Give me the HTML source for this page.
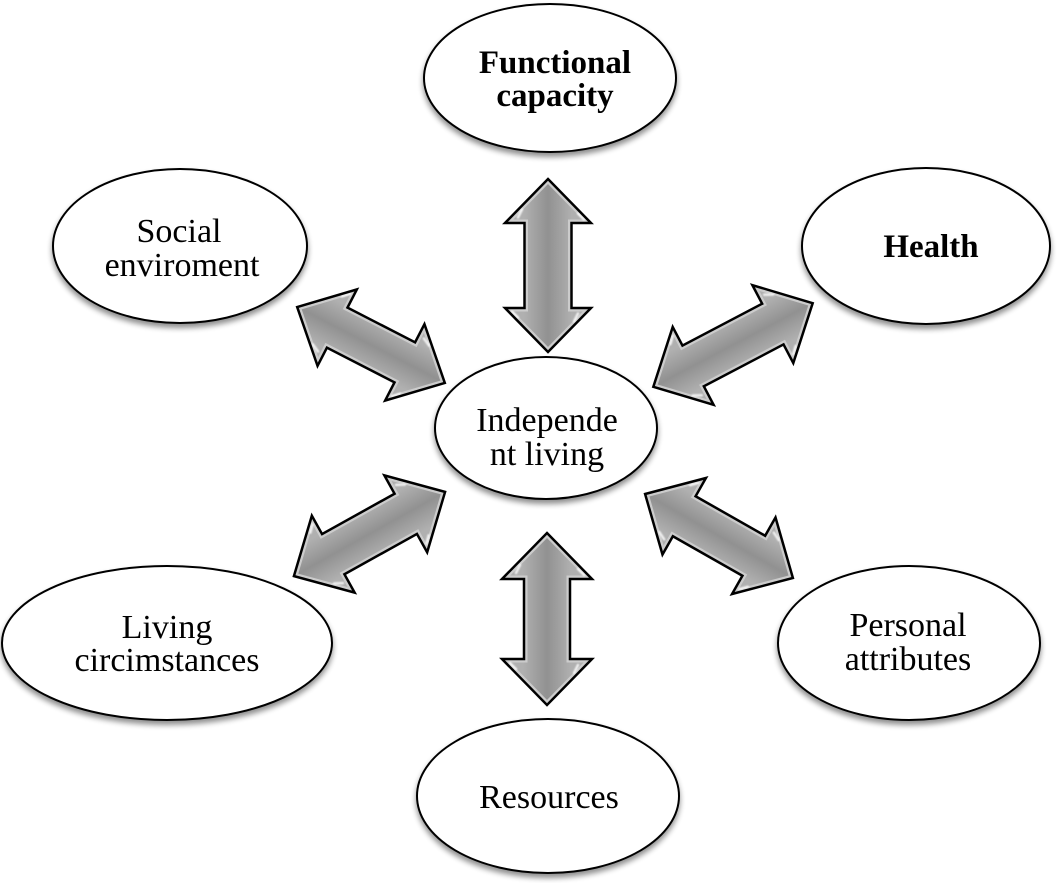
<!DOCTYPE html>
<html>
<head>
<meta charset="utf-8">
<style>
  html,body{margin:0;padding:0;background:#fff;}
  svg{display:block;}
  text{font-family:"Liberation Serif","Times New Roman",serif;font-size:34px;fill:#000;}
  .b{font-weight:bold;font-size:33px;}
</style>
</head>
<body>
<svg width="1064" height="883" viewBox="0 0 1064 883" xmlns="http://www.w3.org/2000/svg">
  <defs>
    <filter id="sh" x="-20%" y="-20%" width="140%" height="150%">
      <feGaussianBlur in="SourceAlpha" stdDeviation="3"/>
      <feOffset dx="0" dy="4" result="o"/>
      <feComponentTransfer><feFuncA type="linear" slope="0.45"/></feComponentTransfer>
      <feMerge><feMergeNode/><feMergeNode in="SourceGraphic"/></feMerge>
    </filter>
    <filter id="bl" x="-50%" y="-50%" width="200%" height="200%">
      <feGaussianBlur stdDeviation="0.8"/>
    </filter>
    <linearGradient id="g" gradientUnits="userSpaceOnUse" x1="0" y1="-24" x2="0" y2="24">
      <stop offset="0" stop-color="#b0b0b0"/>
      <stop offset="0.5" stop-color="#919191"/>
      <stop offset="1" stop-color="#b0b0b0"/>
    </linearGradient>

    <path id="aT" d="M-86.5,0 L-42.5,-43 L-42.5,-23.5 L42.5,-23.5 L42.5,-43 L86.5,0 L42.5,43 L42.5,23.5 L-42.5,23.5 L-42.5,43Z"/>
    <path id="aB" d="M-86,0 L-40,-45 L-40,-23 L40,-23 L40,-45 L86,0 L40,45 L40,23 L-40,23 L-40,45Z"/>
    <path id="aUL" d="M-83,0 L-38,-43 L-38,-22.5 L38,-22.5 L38,-43 L83,0 L38,43 L38,22.5 L-38,22.5 L-38,43Z"/>
    <path id="aUR" d="M-90,0 L-45,-44 L-45,-23 L45,-23 L45,-44 L90,0 L45,44 L45,23 L-45,23 L-45,44Z"/>
    <path id="aLL" d="M-86.5,0 L-41.5,-44 L-41.5,-23 L41.5,-23 L41.5,-44 L86.5,0 L41.5,44 L41.5,23 L-41.5,23 L-41.5,44Z"/>
    <path id="aLR" d="M-85,0 L-40,-44 L-40,-23 L40,-23 L40,-44 L85,0 L40,44 L40,23 L-40,23 L-40,44Z"/>

    <clipPath id="cT"><use href="#aT"/></clipPath>
    <clipPath id="cB"><use href="#aB"/></clipPath>
    <clipPath id="cUL"><use href="#aUL"/></clipPath>
    <clipPath id="cUR"><use href="#aUR"/></clipPath>
    <clipPath id="cLL"><use href="#aLL"/></clipPath>
    <clipPath id="cLR"><use href="#aLR"/></clipPath>
  </defs>

  <!-- Arrows -->
  <g transform="translate(548,265.5) rotate(90)">
    <use href="#aT" fill="url(#g)"/>
    <use href="#aT" fill="none" stroke="#cccccc" stroke-width="7" clip-path="url(#cT)"/>
    <g stroke="#fff" stroke-width="2.5" stroke-linecap="round" opacity="0.8" filter="url(#bl)">
      <line x1="-52" y1="-30" x2="-46" y2="-36"/><line x1="-56" y1="26" x2="-48" y2="30"/>
      <line x1="52" y1="30" x2="46" y2="36"/><line x1="56" y1="-26" x2="48" y2="-30"/>
    </g>
    <use href="#aT" fill="none" stroke="#000" stroke-width="2.5" stroke-linejoin="miter"/>
  </g>
  <g transform="translate(547,619) rotate(90)">
    <use href="#aB" fill="url(#g)"/>
    <use href="#aB" fill="none" stroke="#cccccc" stroke-width="7" clip-path="url(#cB)"/>
    <g stroke="#fff" stroke-width="2.5" stroke-linecap="round" opacity="0.8" filter="url(#bl)">
      <line x1="-50" y1="-31" x2="-44" y2="-37"/><line x1="-54" y1="27" x2="-46" y2="31"/>
      <line x1="50" y1="31" x2="44" y2="37"/><line x1="54" y1="-27" x2="46" y2="-31"/>
    </g>
    <use href="#aB" fill="none" stroke="#000" stroke-width="2.5"/>
  </g>
  <g transform="translate(371,345) rotate(27.2)">
    <use href="#aUL" fill="url(#g)"/>
    <use href="#aUL" fill="none" stroke="#cccccc" stroke-width="7" clip-path="url(#cUL)"/>
    <g stroke="#fff" stroke-width="2.5" stroke-linecap="round" opacity="0.8" filter="url(#bl)">
      <line x1="-48" y1="-30" x2="-42" y2="-36"/><line x1="-52" y1="26" x2="-44" y2="30"/>
      <line x1="48" y1="30" x2="42" y2="36"/><line x1="52" y1="-26" x2="44" y2="-30"/>
    </g>
    <use href="#aUL" fill="none" stroke="#000" stroke-width="2.5"/>
  </g>
  <g transform="translate(733,345) rotate(-27.7)">
    <use href="#aUR" fill="url(#g)"/>
    <use href="#aUR" fill="none" stroke="#cccccc" stroke-width="7" clip-path="url(#cUR)"/>
    <g stroke="#fff" stroke-width="2.5" stroke-linecap="round" opacity="0.8" filter="url(#bl)">
      <line x1="-55" y1="-30" x2="-49" y2="-36"/><line x1="-59" y1="26" x2="-51" y2="30"/>
      <line x1="55" y1="30" x2="49" y2="36"/><line x1="59" y1="-26" x2="51" y2="-30"/>
    </g>
    <use href="#aUR" fill="none" stroke="#000" stroke-width="2.5"/>
  </g>
  <g transform="translate(369.5,534) rotate(-29.1)">
    <use href="#aLL" fill="url(#g)"/>
    <use href="#aLL" fill="none" stroke="#cccccc" stroke-width="7" clip-path="url(#cLL)"/>
    <g stroke="#fff" stroke-width="2.5" stroke-linecap="round" opacity="0.8" filter="url(#bl)">
      <line x1="-51" y1="-30" x2="-45" y2="-36"/><line x1="-55" y1="26" x2="-47" y2="30"/>
      <line x1="51" y1="30" x2="45" y2="36"/><line x1="55" y1="-26" x2="47" y2="-30"/>
    </g>
    <use href="#aLL" fill="none" stroke="#000" stroke-width="2.5"/>
  </g>
  <g transform="translate(719,536) rotate(29.6)">
    <use href="#aLR" fill="url(#g)"/>
    <use href="#aLR" fill="none" stroke="#cccccc" stroke-width="7" clip-path="url(#cLR)"/>
    <g stroke="#fff" stroke-width="2.5" stroke-linecap="round" opacity="0.8" filter="url(#bl)">
      <line x1="-50" y1="-30" x2="-44" y2="-36"/><line x1="-54" y1="26" x2="-46" y2="30"/>
      <line x1="50" y1="30" x2="44" y2="36"/><line x1="54" y1="-26" x2="46" y2="-30"/>
    </g>
    <use href="#aLR" fill="none" stroke="#000" stroke-width="2.5"/>
  </g>

  <!-- Ellipses -->
  <g fill="#fff" stroke="#000" stroke-width="2" filter="url(#sh)">
    <ellipse cx="550" cy="78" rx="126" ry="74"/>
    <ellipse cx="180" cy="246" rx="127" ry="77"/>
    <ellipse cx="926" cy="246" rx="124" ry="78"/>
    <ellipse cx="546" cy="428" rx="111" ry="71"/>
    <ellipse cx="167" cy="643" rx="165" ry="77"/>
    <ellipse cx="909" cy="643" rx="131" ry="77"/>
    <ellipse cx="548" cy="796" rx="131" ry="77"/>
  </g>

  <!-- Labels -->
  <g text-anchor="middle">
    <text class="b" x="555" y="73">Functional</text>
    <text class="b" x="555" y="106">capacity</text>

    <text x="179" y="242">Social</text>
    <text x="182" y="276">enviroment</text>

    <text class="b" x="931" y="257">Health</text>

    <text x="547" y="431">Independe</text>
    <text x="547" y="465">nt living</text>

    <text x="167" y="638">Living</text>
    <text x="167" y="671">circimstances</text>

    <text x="908" y="636">Personal</text>
    <text x="908" y="670">attributes</text>

    <text x="549" y="808">Resources</text>
  </g>
</svg>
</body>
</html>
